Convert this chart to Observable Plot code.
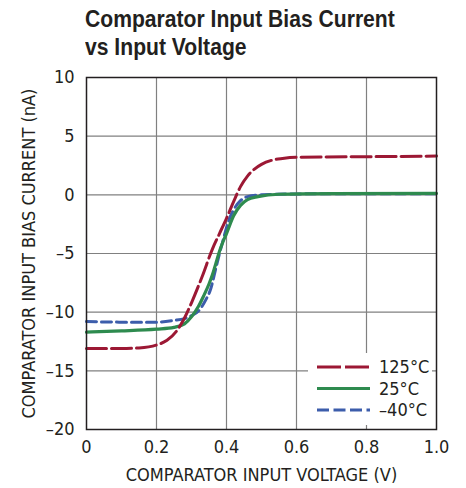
<!DOCTYPE html>
<html>
<head>
<meta charset="utf-8">
<script src="https://cdn.jsdelivr.net/npm/d3@7"></script>
<script src="https://cdn.jsdelivr.net/npm/@observablehq/plot@0.6"></script>
<style>
  html, body { margin: 0; padding: 0; background: #fff; }
  #wrap { position: relative; width: 466px; height: 488px; overflow: hidden; }
  #title { position: absolute; left: 85px; top: 5px; font-family: 'Liberation Sans', Arial, sans-serif; font-weight: bold; font-size: 24px; line-height: 28px; color: #231f20; white-space: nowrap; transform: scaleX(0.88); transform-origin: left top; }
  #legend { position: absolute; left: 308px; top: 353px; }
</style>
</head>
<body>
<div id="wrap">
  <div id="chart"></div>
  <div id="title">Comparator Input Bias Current<br>vs Input Voltage</div>
  <div id="legend"></div>
</div>
<script>
const FONT = "'DejaVu Sans Condensed', 'DejaVu Sans', sans-serif";

const seriesNames = ["125°C", "25°C", "–40°C"];
const seriesColors = ["#9c1834", "#2e8b4f", "#3c5dab"];
const seriesDash = ["20,5", null, "10,5"];

const xTicks = [0, 0.2, 0.4, 0.6, 0.8, 1.0];
const yTicks = [-20, -15, -10, -5, 0, 5, 10];

const v125 = [0, 0.1, 0.15, 0.2, 0.23, 0.26, 0.28, 0.3, 0.33, 0.36, 0.38, 0.4, 0.42, 0.44, 0.46, 0.48, 0.5, 0.53, 0.56, 0.6, 0.8, 1.0];
const i125 = [-13.1, -13.1, -13.05, -12.8, -12.4, -11.5, -10.5, -9.2, -7.0, -4.6, -3.3, -2.0, -0.6, 0.7, 1.6, 2.2, 2.6, 2.95, 3.1, 3.2, 3.25, 3.3];

const v25 = [0, 0.1, 0.2, 0.25, 0.28, 0.3, 0.32, 0.335, 0.35, 0.36, 0.37, 0.38, 0.39, 0.4, 0.42, 0.44, 0.46, 0.49, 0.55, 0.7, 1.0];
const i25 = [-11.7, -11.6, -11.45, -11.3, -11.0, -10.4, -9.5, -8.6, -7.6, -6.8, -5.8, -4.8, -4.0, -3.3, -1.8, -0.9, -0.4, -0.15, 0.05, 0.1, 0.12];

const vM40 = [0, 0.1, 0.2, 0.25, 0.28, 0.3, 0.32, 0.34, 0.355, 0.37, 0.38, 0.39, 0.4, 0.41, 0.42, 0.44, 0.46, 0.5, 0.6, 1.0];
const iM40 = [-10.8, -10.85, -10.85, -10.7, -10.55, -10.3, -9.9, -9.0, -8.0, -6.2, -5.0, -3.9, -2.8, -1.9, -1.3, -0.5, -0.15, 0.0, 0.08, 0.1];

const toRows = (vs, is) => vs.map((v, k) => ({v, i: is[k]}));
const d125 = toRows(v125, i125);
const d25 = toRows(v25, i25);
const dM40 = toRows(vM40, iM40);

const chart = Plot.plot({
  width: 466,
  height: 488,
  marginTop: 77,
  marginBottom: 59,
  marginLeft: 86,
  marginRight: 30,
  style: {fontFamily: FONT, fontSize: "18px", color: "#231f20", background: "#fff"},
  x: {domain: [0, 1]},
  y: {domain: [-20, 10]},
  marks: [
    Plot.gridX(xTicks.slice(1, -1), {stroke: "#808080", strokeOpacity: 1, strokeWidth: 1.2}),
    Plot.gridY(yTicks.slice(1, -1), {stroke: "#808080", strokeOpacity: 1, strokeWidth: 1.2}),
    Plot.axisX(xTicks, {
      tickSize: 0, tickPadding: 11, fontSize: 18,
      tickFormat: d => d === 0 ? "0" : d.toFixed(1),
      label: "COMPARATOR INPUT VOLTAGE (V)", labelAnchor: "center", labelOffset: 51, labelArrow: "none"
    }),
    Plot.axisY(yTicks, {
      tickSize: 0, tickPadding: 12, fontSize: 18,
      tickFormat: d => d < 0 ? "–" + Math.abs(d) : String(d),
      label: "COMPARATOR INPUT BIAS CURRENT (nA)", labelAnchor: "center", labelOffset: 64, labelArrow: "none"
    }),
    Plot.line(dM40, {x: "v", y: "i", stroke: seriesColors[2], strokeWidth: 3, strokeDasharray: seriesDash[2], curve: "monotone-x"}),
    Plot.line(d25, {x: "v", y: "i", stroke: seriesColors[1], strokeWidth: 3.2, curve: "monotone-x"}),
    Plot.line(d125, {x: "v", y: "i", stroke: seriesColors[0], strokeWidth: 3, strokeDasharray: seriesDash[0], curve: "monotone-x"}),
    Plot.frame({stroke: "#231f20", strokeWidth: 1.5})
  ]
});
document.getElementById("chart").appendChild(chart);

// Legend (white box over the grid, bottom-right inside the frame)
const lg = d3.select("#legend").append("svg").attr("width", 124).attr("height", 72)
  .style("background", "#fff").style("display", "block");
seriesNames.forEach((name, k) => {
  const y = 14 + k * 21.5;
  lg.append("line").attr("x1", 9).attr("x2", 62).attr("y1", y).attr("y2", y)
    .attr("stroke", seriesColors[k]).attr("stroke-width", 3.2)
    .attr("stroke-dasharray", k === 0 ? "24,4" : (k === 2 ? "12,4.5" : null));
  lg.append("text").attr("x", 71).attr("y", y).attr("dy", "0.36em")
    .attr("font-family", FONT).attr("font-size", 18).attr("fill", "#231f20").text(name);
});
</script>
</body>
</html>
